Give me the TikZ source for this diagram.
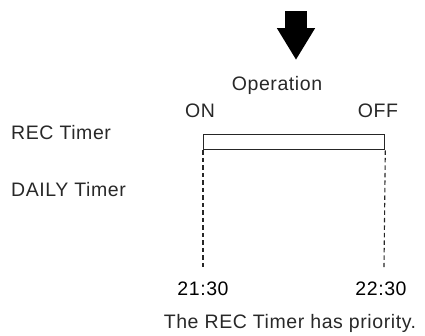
\documentclass[tikz,border=0pt]{standalone}
\usepackage{fontspec}
\setmainfont{Liberation Sans}[LetterSpace=3]
\usetikzlibrary{arrows.meta, positioning}
\definecolor{textogris}{RGB}{40,40,40}

\begin{document}
\begin{tikzpicture}[x=1pt, y=-1pt,
    lbl/.style={inner sep=0pt, font=\fontsize{19.5}{22}\selectfont, text=textogris},
    hora/.style={inner sep=0pt, font=\fontsize{19.5}{22}\selectfont, text=black},
    barra/.style={draw=black!85, line width=1.3pt, minimum width=181pt, minimum height=15pt, inner sep=0pt},
    guia/.style={black!85, line width=1.1pt, dash pattern=on 4.5pt off 3pt}]
    \useasboundingbox (0,0) rectangle (425,335);
    % Big arrow
    \coordinate (topo) at (296,11);
    \coordinate (ponta) at (296,60);
    \draw[line width=22pt, -{Triangle[length=32pt, width=36pt]}] (topo) -- (ponta);
    % Operation labels
    \node[lbl, anchor=base] (oper) at (277,90.5) {Operation};
    \node[lbl, anchor=base] (on) at (200,117) {ON};
    \node[lbl, anchor=base] (off) at (378,117) {OFF};
    % Row labels
    \node[lbl, anchor=base west] (rec) at (11,139) {REC Timer};
    \node[lbl, anchor=base west] (daily) at (11,196.5) {DAILY Timer};
    % Recording bar
    \node[barra, anchor=north west] (bar) at (203,134) {};
    % Dashed guides
    \coordinate (fimA) at (203,267);
    \coordinate (fimB) at (384,267);
    \draw[guia] (bar.south west) -- (fimA);
    \draw[guia] (bar.south east) -- (fimB);
    % Times
    \node[hora, anchor=base] (t1) at (203,295.5) {21:30};
    \node[hora, anchor=base] (t2) at (381,295.5) {22:30};
    \node[lbl, anchor=base] (nota) at (290,328) {The REC Timer has priority.};
\end{tikzpicture}
\end{document}
